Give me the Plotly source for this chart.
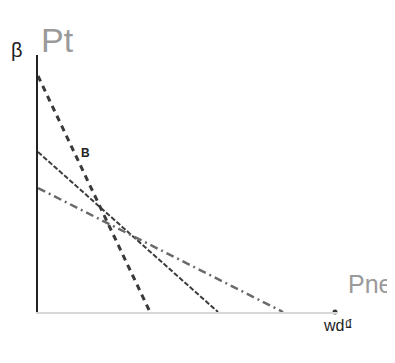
import plotly.graph_objects as go

# Three demand-like lines (quantity intercept, price intercept), in chart units
line_names = ["A", "B", "C"]
price_intercepts = [236, 160, 124]
quantity_intercepts = [112, 180, 245]
line_colors = ["#3a3a3a", "#3c3c3c", "#6a6a6a"]
line_dashes = ["6px,5px", "5px,2px", "8px,4px,2px,4px"]
line_widths = [3, 2, 2.5]
end_dot_q = [297]
end_dot_p = [0]

y_label = "Pt"
x_label = "Pne"
y_small = "β"
x_small = "wd₫"
mark_label = "B"

fig = go.Figure()
for name, p0, q0, c, d, w in zip(line_names, price_intercepts, quantity_intercepts,
                                 line_colors, line_dashes, line_widths):
    fig.add_trace(go.Scatter(x=[0, q0], y=[p0, 0], mode="lines", name=name,
                             line=dict(color=c, dash=d, width=w),
                             showlegend=False, cliponaxis=False))

fig.add_trace(go.Scatter(x=end_dot_q, y=end_dot_p, mode="markers", showlegend=False,
                         marker=dict(color="#333", size=5), cliponaxis=False))

fig.update_layout(
    width=395, height=363,
    margin=dict(l=30, r=65, t=47, b=59),
    paper_bgcolor="white", plot_bgcolor="white",
    xaxis=dict(range=[0, 300], showgrid=False, zeroline=False, showticklabels=False,
               showline=True, linecolor="#d8d8d8", linewidth=2, ticks=""),
    yaxis=dict(range=[0, 257], showgrid=False, zeroline=False, showticklabels=False,
               showline=True, linecolor="#222", linewidth=2, ticks=""),
    font=dict(family="Liberation Sans, sans-serif"),
)

fig.add_annotation(x=19, y=1.0, xref="x", yref="paper", text=y_label,
                   showarrow=False, xanchor="center", yanchor="bottom",
                   font=dict(size=34, color="#9a9a9a"), yshift=-6)
fig.add_annotation(x=1.0, y=0.0, xref="paper", yref="paper", text=x_label,
                   showarrow=False, xanchor="left", yanchor="bottom",
                   font=dict(size=25, color="#9a9a9a"), xshift=8, yshift=12)
fig.add_annotation(x=0.0, y=1.0, xref="paper", yref="paper", text=y_small,
                   showarrow=False, xanchor="center", yanchor="bottom",
                   font=dict(size=20, color="#222"), xshift=-21, yshift=-8)
fig.add_annotation(x=1.0, y=0.0, xref="paper", yref="paper", text=x_small,
                   showarrow=False, xanchor="center", yanchor="top",
                   font=dict(size=16, color="#222"), yshift=-3)
fig.add_annotation(x=47, y=159, xref="x", yref="y", text="<b>" + mark_label + "</b>",
                   showarrow=False, font=dict(size=12, color="#222"))

fig.write_html("out.html")
